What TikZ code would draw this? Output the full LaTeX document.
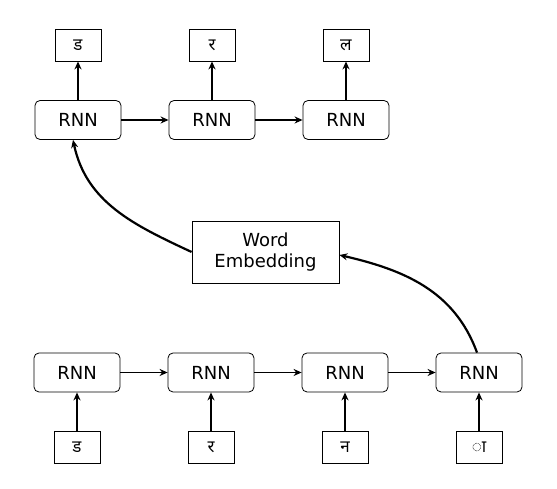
\documentclass[tikz,border=0pt]{standalone}
\usepackage{fontspec}
\setmainfont{DejaVu Sans}
\newfontfamily\devfont[Script=Devanagari]{Noto Sans}
\usetikzlibrary{positioning}
\usetikzlibrary{arrows.meta}
\tikzset{
    node distance=134pt,
    rnn/.style={
        draw,
        line width=0.8pt,
        rounded corners=5pt,
        minimum width=86pt,
        minimum height=39pt,
        font=\fontsize{18}{21}\selectfont
    },
    char box/.style={
        draw,
        line width=0.8pt,
        minimum width=46pt,
        minimum height=32pt,
        font=\devfont\fontsize{17}{19}\selectfont
    },
    every edge/.append style={
        draw,
        -{Stealth[length=8pt,width=7pt]},
        line width=1.5pt
    }
}

\begin{document}
\begin{tikzpicture}[x=1pt, y=1pt, embed node/.style={draw, line width=0.8pt, minimum width=147pt, minimum height=62pt, align=center, font=\fontsize{18}{21}\selectfont}]
    \useasboundingbox (0,0) rectangle (557,489);
    % encoder
    \node[rnn] (e1) at (77,116.5) {RNN};
    \node[rnn, right of = e1] (e2) {RNN};
    \node[rnn, right of = e2] (e3) {RNN};
    \node[rnn, right of = e3] (e4) {RNN};
    \node[char box, node distance=75pt, below of = e1] (i1) {ड};
    \node[char box, node distance=75pt, below of = e2] (i2) {र};
    \node[char box, node distance=75pt, below of = e3] (i3) {न};
    \node[char box, node distance=75pt, below of = e4] (i4) {ा};
    % decoder
    \node[rnn, node distance=252.5pt, above of = e1, xshift=1pt] (d1) {RNN};
    \node[rnn, right of = d1] (d2) {RNN};
    \node[rnn, right of = d2] (d3) {RNN};
    \node[char box, node distance=75pt, above of = d1] (o1) {ड};
    \node[char box, node distance=75pt, above of = d2] (o2) {र};
    \node[char box, node distance=75pt, above of = d3] (o3) {ल};
    \node[embed node] (we) at (265.5,237) {Word\\Embedding};

    \draw (e1) edge (e2)
        (e2) edge (e3)
        (e3) edge (e4);
    \draw (i1) edge (e1);
    \draw (i2) edge (e2);
    \draw (i3) edge (e3);
    \draw (i4) edge (e4);
    \draw (d1) edge (d2)
        (d2) edge (d3);
    \draw (d1) edge (o1);
    \draw (d2) edge (o2);
    \draw (d3) edge (o3);
    \draw ([xshift=-2pt]e4.north) edge[line width=2.2pt, out=110, in=-13] ([yshift=-3pt]we.east);
    \draw (we.west) edge[line width=2.2pt, out=155, in=-78] ([xshift=-5pt]d1.south);
\end{tikzpicture}
\end{document}
